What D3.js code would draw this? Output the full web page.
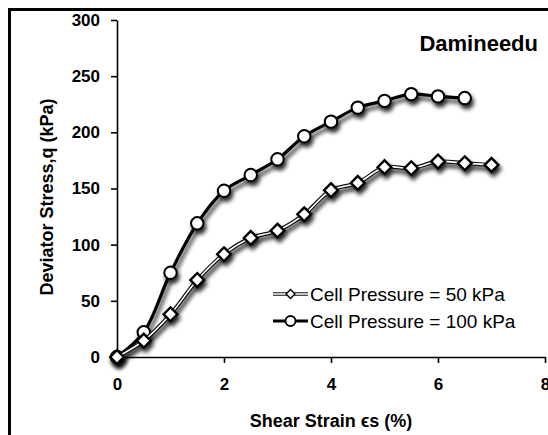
<!DOCTYPE html>
<html>
<head>
<meta charset="utf-8">
<script src="https://cdn.jsdelivr.net/npm/d3@7"></script>
<style>
html,body{margin:0;padding:0;background:#fff;overflow:hidden;}
svg{display:block;font-family:"Liberation Sans",Arial,sans-serif;}
</style>
</head>
<body>
<svg id="chart" width="548" height="435"></svg>
<script>
const strain50 = [0,0.5,1,1.5,2,2.5,3,3.5,4,4.5,5,5.5,6,6.5,7];
const q50 = [0,14.5,38,68.5,91.5,106,112.5,127,148.5,155,169,168,174,172.5,171];
const strain100 = [0,0.5,1,1.5,2,2.5,3,3.5,4,4.5,5,5.5,6,6.5];
const q100 = [0,22,75,119,148,162,176,196.5,209.5,222,228,234,232,230.5];
const xTicks = [0,2,4,6,8];
const yTicks = [0,50,100,150,200,250,300];
const seriesNames = ["Cell Pressure = 50 kPa","Cell Pressure = 100 kPa"];
const titleText = "Damineedu";
const xTitle = "Shear Strain \u03F5s (%)";
const yTitle = "Deviator Stress,q (kPa)";

const svg = d3.select("#chart");
const x = d3.scaleLinear().domain([0,8]).range([117,545]);
const y = d3.scaleLinear().domain([0,300]).range([357,20]);

const defs = svg.append("defs");
const f = defs.append("filter").attr("id","sh").attr("x","-20%").attr("y","-20%").attr("width","140%").attr("height","140%");
f.append("feGaussianBlur").attr("in","SourceAlpha").attr("stdDeviation",2).attr("result","b");
f.append("feOffset").attr("in","b").attr("dx",2).attr("dy",4).attr("result","o");
f.append("feComponentTransfer").attr("in","o").attr("result","o2")
  .append("feFuncA").attr("type","linear").attr("slope",0.85);
const m = f.append("feMerge");
m.append("feMergeNode").attr("in","o2");
m.append("feMergeNode").attr("in","SourceGraphic");

// outer frame
svg.append("rect").attr("x",9.5).attr("y",9.5).attr("width",700).attr("height",600)
  .attr("fill","none").attr("stroke","#000").attr("stroke-width",3);

// axes
const yAxis = d3.axisLeft(y).tickValues(yTicks).tickSize(6).tickPadding(11).tickSizeOuter(0);
const xAxis = d3.axisBottom(x).tickValues(xTicks).tickSize(6).tickPadding(15).tickSizeOuter(0);
const gy = svg.append("g").attr("transform",`translate(${x(0)},0)`).call(yAxis);
const gx = svg.append("g").attr("transform",`translate(0,${y(0)})`).call(xAxis);
[gx,gy].forEach(g=>{
  g.select(".domain").attr("stroke","#000").attr("stroke-width",1.6);
  g.selectAll(".tick line").attr("stroke","#000").attr("stroke-width",1.6);
  g.selectAll(".tick text").attr("fill","#000").attr("font-size",17).attr("font-weight","bold")
    .attr("font-family","Liberation Sans, Arial, sans-serif");
});

// titles
svg.append("text").attr("x",331).attr("y",427).attr("text-anchor","middle")
  .attr("font-size",18).attr("font-weight","bold").text(xTitle);
svg.append("text").attr("transform",`translate(53,197) rotate(-90)`).attr("text-anchor","middle")
  .attr("font-size",18).attr("font-weight","bold").text(yTitle);
svg.append("text").attr("x",538).attr("y",51).attr("text-anchor","end")
  .attr("font-size",22).attr("font-weight","bold").text(titleText);

const line = d3.line().x(d=>x(d[0])).y(d=>y(d[1])).curve(d3.curveCatmullRom.alpha(0.5));
const d100 = strain100.map((s,i)=>[s,q100[i]]);
const d50 = strain50.map((s,i)=>[s,q50[i]]);

// 100 kPa series
const g100 = svg.append("g").attr("filter","url(#sh)");
g100.append("path").attr("d",line(d100)).attr("fill","none").attr("stroke","#000").attr("stroke-width",3.2);
g100.selectAll("circle").data(d100).join("circle")
  .attr("cx",d=>x(d[0])).attr("cy",d=>y(d[1])).attr("r",6.2)
  .attr("fill","#fff").attr("stroke","#000").attr("stroke-width",2);

// 50 kPa series
const g50 = svg.append("g").attr("filter","url(#sh)");
g50.append("path").attr("d",line(d50)).attr("fill","none").attr("stroke","#111").attr("stroke-width",4);
g50.append("path").attr("d",line(d50)).attr("fill","none").attr("stroke","#fff").attr("stroke-width",1.6);
const diamond = d3.symbol().type(d3.symbolSquare).size(95);
g50.selectAll("path.mk").data(d50).join("path").attr("class","mk")
  .attr("d",diamond).attr("transform",d=>`translate(${x(d[0])},${y(d[1])}) rotate(45)`)
  .attr("fill","#fff").attr("stroke","#000").attr("stroke-width",2.4);

// legend
const lg = svg.append("g");
const rows = [294,321];
lg.append("line").attr("x1",273).attr("x2",308).attr("y1",rows[0]).attr("y2",rows[0]).attr("stroke","#111").attr("stroke-width",3.5);
lg.append("line").attr("x1",273).attr("x2",308).attr("y1",rows[0]).attr("y2",rows[0]).attr("stroke","#fff").attr("stroke-width",1.3);
lg.append("path").attr("d",d3.symbol().type(d3.symbolSquare).size(40))
  .attr("transform",`translate(290.5,${rows[0]}) rotate(45)`).attr("fill","#fff").attr("stroke","#000").attr("stroke-width",1.4);
lg.append("line").attr("x1",273).attr("x2",308).attr("y1",rows[1]).attr("y2",rows[1]).attr("stroke","#000").attr("stroke-width",3);
lg.append("circle").attr("cx",290.5).attr("cy",rows[1]).attr("r",5).attr("fill","#fff").attr("stroke","#000").attr("stroke-width",1.8);
seriesNames.forEach((n,i)=>{
  lg.append("text").attr("x",310).attr("y",rows[i]).attr("dy","0.36em").attr("font-size",19).text(n);
});
</script>
</body>
</html>
